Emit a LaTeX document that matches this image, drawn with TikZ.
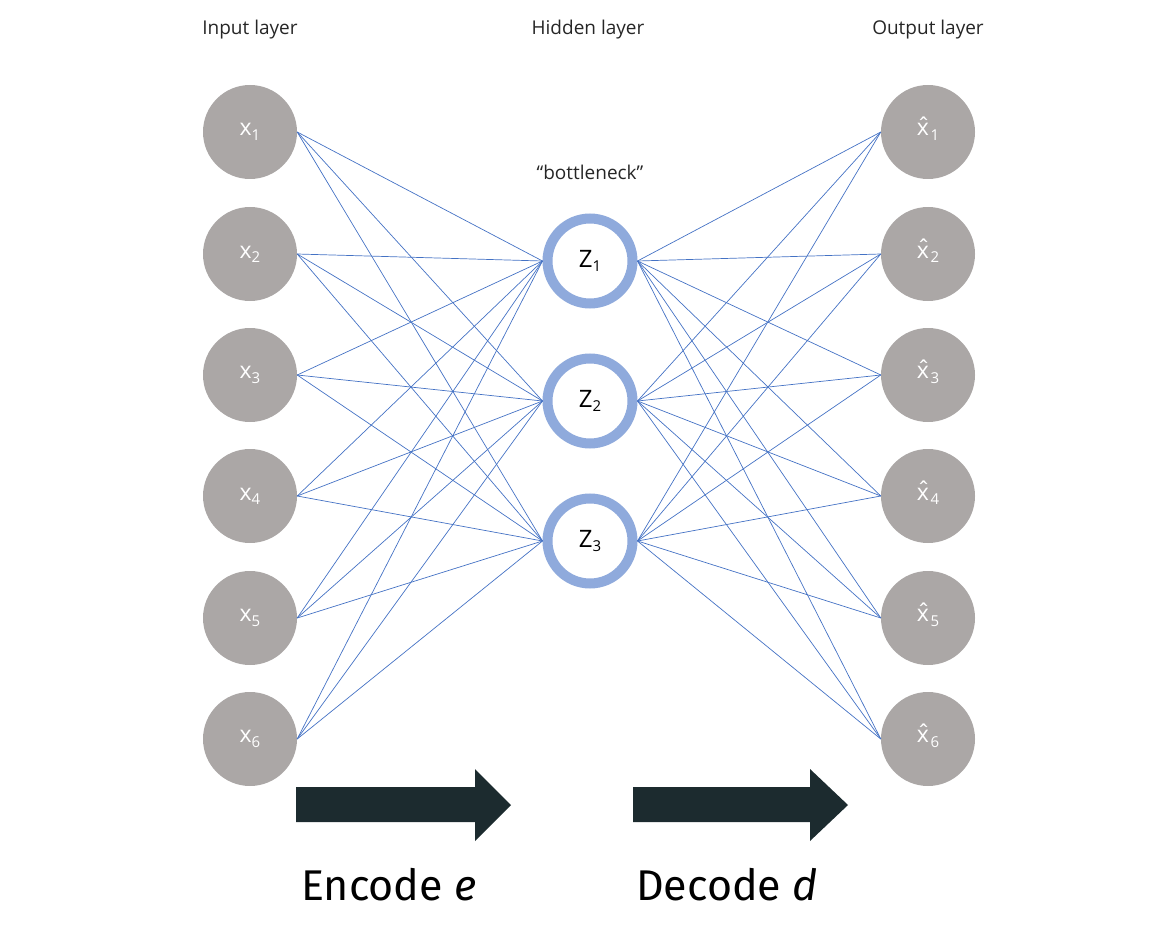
\documentclass[tikz,border=0pt]{standalone}
\usepackage{fontspec}
\setmainfont{Open Sans}
\newfontfamily\bigfont{Fira Sans}
\definecolor{nodegray}{HTML}{ABA7A6}
\definecolor{ringblue}{HTML}{8FAADC}
\definecolor{edgeblue}{HTML}{4472C4}
\definecolor{arrowdark}{HTML}{1C2B2F}
\definecolor{labelgray}{HTML}{262626}
\newcommand\lsub[1]{\raisebox{-0.35ex}{\fontsize{15}{15}\selectfont #1}}
\newcommand\xhat{\ooalign{x\cr\hfil\raisebox{0.15ex}{ˆ}\hfil\cr}}
\tikzset{
  innode/.style={circle, fill=nodegray, minimum size=94pt, inner sep=0pt, text=white, font=\fontsize{23}{26}\selectfont},
  hidnode/.style={circle, draw=ringblue, line width=10pt, fill=white, minimum size=85pt, inner sep=0pt, text=black, font=\fontsize{24}{26}\selectfont},
  layerlabel/.style={text=labelgray, font=\fontsize{19}{21}\selectfont},
  conn/.style={edgeblue, line width=0.7pt},
  bigarrow/.style={fill=arrowdark},
  biglabel/.style={font=\bigfont\fontsize{43}{48}\selectfont}
}
\begin{document}
\begin{tikzpicture}[x=1pt,y=-1pt]
\useasboundingbox (0,0) rectangle (1166,933);
% labels
\node[layerlabel] (lin) at (250,30) {Input layer};
\node[layerlabel] (lhid) at (588,30) {Hidden layer};
\node[layerlabel] (lout) at (928,30) {Output layer};
\node[layerlabel] (lbn) at (590,172) {“bottleneck”};
% input and output nodes
\foreach \i/\y in {1/132,2/254,3/375,4/496,5/618,6/739}{
  \node[innode] (x\i) at (250,\y) {x\lsub{\i}};
  \node[innode] (o\i) at (928,\y) {\xhat\lsub{\i}};
}
% hidden nodes
\foreach \j/\y in {1/261,2/401,3/541}{
  \node[hidnode] (z\j) at (590,\y) {Z\lsub{\j}};
}
% connections
\foreach \i in {1,...,6}{
  \foreach \j in {1,2,3}{
    \draw[conn] (x\i.east) -- (z\j.west);
    \draw[conn] (z\j.east) -- (o\i.west);
  }
}
% big arrows
\fill[bigarrow] (296,787) -- (475,787) -- (475,769) -- (511,805) -- (475,841) -- (475,822) -- (296,822) -- cycle;
\fill[bigarrow] (633,787) -- (810,787) -- (810,769) -- (848,805) -- (810,841) -- (810,822) -- (633,822) -- cycle;
\node[biglabel] (enc) at (389,885) {Encode \textit{e}};
\node[biglabel] (dec) at (727,885) {Decode \textit{d}};
\end{tikzpicture}
\end{document}
